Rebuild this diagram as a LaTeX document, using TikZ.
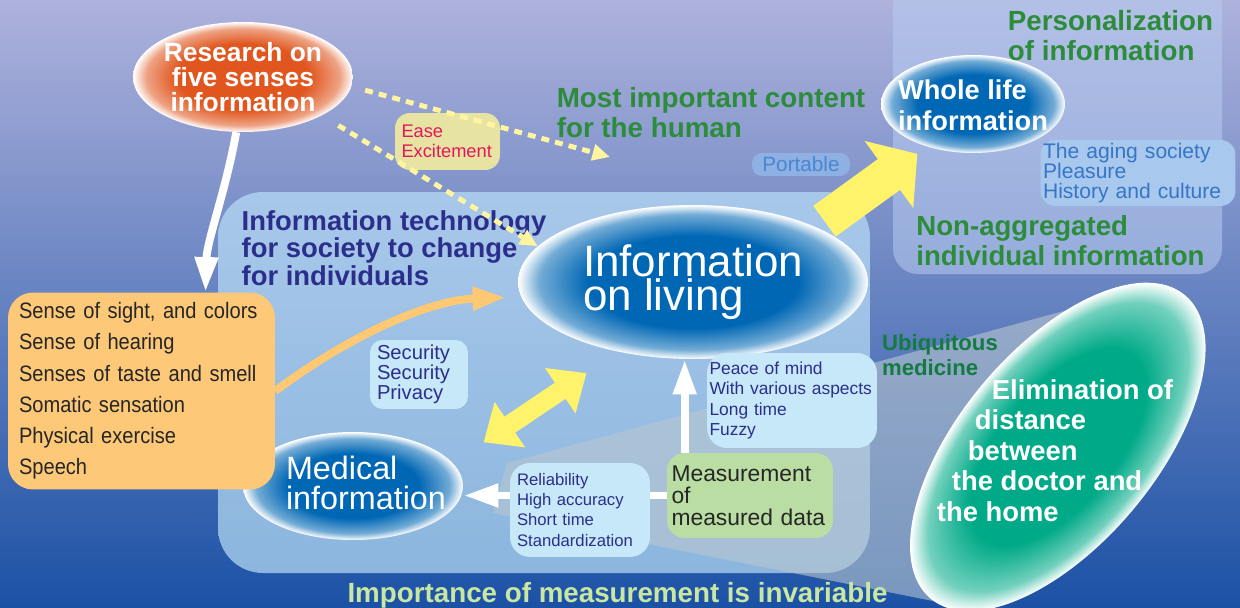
\documentclass[tikz,border=0pt]{standalone}
\usepackage{fontspec}
\setmainfont{Liberation Sans}
\newfontfamily\narrowfont[FakeStretch=0.9]{Liberation Sans}
\usetikzlibrary{shapes.geometric,arrows.meta,positioning}

\definecolor{bgtop}{HTML}{AEB2DC}
\definecolor{bgmid}{HTML}{6F80C2}
\definecolor{bgbot}{HTML}{1B51A5}
\definecolor{panetop}{HTML}{A8C8EA}
\definecolor{panebot}{HTML}{8CB6DE}
\definecolor{paneright}{HTML}{B8CCF0}
\definecolor{wedgec}{HTML}{B8C6D0}
\definecolor{ballblue}{HTML}{0067B4}
\definecolor{ballorange}{HTML}{E0561E}
\definecolor{ballgreen}{HTML}{00AA88}
\definecolor{arrowyellow}{HTML}{FFF36C}
\definecolor{dashyellow}{HTML}{FFF5A0}
\definecolor{orangeline}{HTML}{FFC872}
\definecolor{sensec}{HTML}{FDC877}
\definecolor{easec}{HTML}{E6E3A3}
\definecolor{easetext}{HTML}{E5175C}
\definecolor{headgreen}{HTML}{2D8C3B}
\definecolor{darkgreen}{HTML}{137B3F}
\definecolor{navy}{HTML}{2C2E8C}
\definecolor{palec}{HTML}{C7E8F8}
\definecolor{agingc}{HTML}{A9C8EE}
\definecolor{agingtext}{HTML}{3676C6}
\definecolor{portc}{HTML}{8EB0E2}
\definecolor{porttext}{HTML}{4A87D2}
\definecolor{measc}{HTML}{BADDA4}
\definecolor{invgreen}{HTML}{C9E7A2}

\colorlet{glowc}{ballblue}
\pgfdeclareradialshading[glowc]{glow}{\pgfpointorigin}{color(0bp)=(glowc); color(15bp)=(glowc); color(22bp)=(glowc!55!white); color(25bp)=(white); color(50bp)=(white)}

\pgfdeclarelayer{back}
\pgfdeclarelayer{arrows}
\pgfsetlayers{back,arrows,main}

\newcommand\fsz[2]{\fontsize{#1}{#2}\selectfont}

\begin{document}
\lineskiplimit=-50pt
\hyphenpenalty=10000
\begin{tikzpicture}[x=0.02cm, y=-0.02cm,
  glow/.style={shade, shading=glow, /utils/exec={\colorlet{glowc}{#1}}},
  ball/.style={ellipse, inner sep=0pt},
  balltext/.style={text=white, align=left, inner sep=0pt},
  tagbox/.style={rounded corners=0.3cm, inner sep=0pt, align=left},
  greenhead/.style={text=headgreen, font=\bfseries\fsz{15.8}{16.8}, align=left, inner sep=0pt},
  whitearrow/.style={draw=white, line width=4.5pt, -{Triangle[length=20pt,width=12.5pt]}},
  orangearrow/.style={draw=orangeline, line width=4.5pt, -{Triangle[length=19pt,width=12.5pt]}},
  dasharrow/.style={draw=dashyellow, line width=2.8pt, dash pattern=on 4.5pt off 3.5pt, -{Triangle[length=10pt,width=9pt]}},
  yellowblock/.style={draw=arrowyellow, line width=21.6pt, -{Triangle[length=20pt,width=46pt]}},
  yellowdouble/.style={draw=arrowyellow, line width=11pt, {Triangle[length=18pt,width=30pt]}-{Triangle[length=18pt,width=30pt]}}]

\useasboundingbox (0,0) rectangle (1240,608);

% backdrop, panels and the spotlight
\begin{pgfonlayer}{back}
\shade[top color=bgtop, middle color=bgmid, bottom color=bgbot] (0,0) rectangle (1240,608);
\fill[paneright, opacity=0.55, rounded corners=0.5cm] (893,-20) rectangle (1222,274);
\shade[top color=panetop, bottom color=panebot, rounded corners=0.9cm] (218,192) rectangle (870,573);
\fill[wedgec, opacity=0.6] (493,513) -- (507,463) -- (1093,303) -- (953,605) -- cycle;
\shade[glow=ballgreen, transform canvas={shift={(21.16cm,-8.94cm)}, rotate=50}] (0,0) ellipse [x radius=3.96cm, y radius=1.96cm];
\end{pgfonlayer}

% ellipses
\node[ball, glow=ballorange, minimum width=4.4cm, minimum height=2.2cm] (research) at (243,77) {};
\node[balltext, align=center, font=\bfseries\fsz{15}{14}] (researchlbl) at (research) {Research on\\five senses\\information};
\node[ball, glow=ballblue, minimum width=3.68cm, minimum height=1.96cm] (whole) at (973,104) {};
\node[balltext, font=\bfseries\fsz{15.5}{17.6}] (wholelbl) at ([yshift=-0.03cm]whole) {Whole life\\information};
\node[ball, glow=ballblue, minimum width=7cm, minimum height=3.08cm] (living) at (693,282) {};
\node[balltext, font=\fsz{25}{19}] (livinglbl) at (living) {Information\\on living};
\node[ball, glow=ballblue, minimum width=4.4cm, minimum height=2.16cm] (medical) at (353,486) {};
\node[balltext, font=\fsz{18.4}{17}] (medicallbl) at ([xshift=0.26cm,yshift=0.06cm]medical) {Medical\\information};

% boxes
\node[tagbox, fill=easec, text=easetext, minimum width=2.1cm, minimum height=1.14cm, text width=1.84cm, font=\fsz{10.4}{11.4}] (ease) at (447.5,141.5) {Ease\\Excitement};
\node[tagbox, rounded corners=0.2cm, fill=portc, text=porttext, minimum width=1.96cm, minimum height=0.46cm, font=\fsz{11.8}{12}] (portable) at (801,164.5) {Portable};
\node[tagbox, fill=agingc, text=agingtext, minimum width=3.9cm, minimum height=1.32cm, text width=3.8cm, font=\fsz{12}{11.4}] (aging) at (1138,173) {The aging society\\Pleasure\\History and culture};
\node[tagbox, rounded corners=0.5cm, fill=sensec, text=black!85, minimum width=5.34cm, minimum height=3.94cm, text width=4.9cm, font=\narrowfont\fsz{12.7}{17.8}] (sense) at (141.5,391) {Sense of sight, and colors\\Sense of hearing\\Senses of taste and smell\\Somatic sensation\\Physical exercise\\Speech};
\node[tagbox, rounded corners=0.25cm, fill=palec, text=navy, minimum width=1.96cm, minimum height=1.38cm, text width=1.68cm, font=\fsz{11.5}{11.4}] (security) at (419,374.5) {Security\\Security\\Privacy};
\node[tagbox, rounded corners=0.4cm, fill=palec, text=navy, minimum width=3.4cm, minimum height=1.9cm, text width=3.3cm, font=\fsz{9.9}{11.4}] (peace) at (792,400.5) {Peace of mind\\With various aspects\\Long time\\Fuzzy};
\node[tagbox, rounded corners=0.4cm, fill=palec, text=navy, minimum width=2.8cm, minimum height=1.88cm, text width=2.52cm, font=\fsz{9.5}{11.4}] (reliab) at (580,510) {Reliability\\High accuracy\\Short time\\Standardization};
\node[tagbox, rounded corners=0.35cm, fill=measc, text=black!85, minimum width=3.32cm, minimum height=1.7cm, text width=3.14cm, font=\fsz{13}{12.5}] (meas) at (750,495.5) {Measurement\\of\\measured data};

% headings
\node[greenhead] (important) at (711,112.5) {Most important content\\for the human};
\node[greenhead] (personal) at (1110.5,35.5) {Personalization\\of information};
\node[greenhead, font=\bfseries\fsz{15.7}{17}] (nonagg) at (1060.5,240.5) {Non-aggregated\\individual information};
\node[text=navy, font=\bfseries\fsz{15.6}{15.5}, align=left, inner sep=0pt] (itsoc) at (394,248) {Information technology\\for society to change\\for individuals};
\node[text=darkgreen, font=\bfseries\fsz{12.6}{14.2}, align=left, inner sep=0pt] (ubiq) at (940,355) {Ubiquitous\\medicine};
\node[text=white, font=\bfseries\fsz{15.6}{17.3}, align=left, inner sep=0pt] (elim) at (1055,450.5) {\hspace*{1.1cm}Elimination of\\\hspace*{0.76cm}distance\\\hspace*{0.62cm}between\\\hspace*{0.3cm}the doctor and\\the home};
\node[anchor=base, text=invgreen, font=\bfseries\fsz{15.8}{16}, inner sep=0pt] (invariable) at (617.5,602) {Importance of measurement is invariable};

% arrows under the boxes
\begin{pgfonlayer}{arrows}
\draw[yellowblock, shorten <=0.2cm, shorten >=0.24cm] (living.24) -- (whole.223);
\draw[yellowdouble, shorten <=0.74cm, shorten >=0.76cm] (medical.13) -- (living.223);
\draw[whitearrow] (research.263) .. controls (226,190) and (207,240) .. ([xshift=1.28cm]sense.north);
\draw[orangearrow, shorten >=0.3cm] (sense.east) .. controls (350,335) and (430,300) .. (living.185);
\coordinate (mtop) at ([xshift=0.36cm]meas.north west);
\draw[whitearrow] (mtop) -- (mtop |- living.south);
\draw[whitearrow] (meas.west) -- (meas.west -| medical.east);
\end{pgfonlayer}

\coordinate (humanpt) at (610,157);
\draw[dasharrow, shorten <=0.28cm] (research.-5) -- (humanpt);
\draw[dasharrow, shorten <=0.38cm] (research.-26) -- (living.167);
\end{tikzpicture}
\end{document}
